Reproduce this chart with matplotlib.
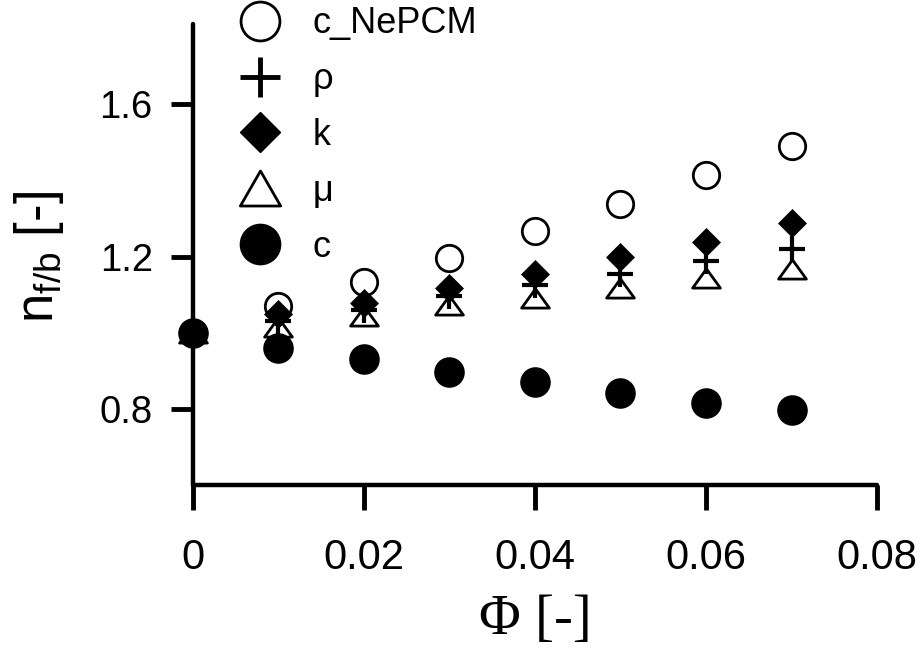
import matplotlib.pyplot as plt
from matplotlib.lines import Line2D
from matplotlib.path import Path

plt.rcParams['font.family'] = ['Liberation Sans', 'DejaVu Sans']
plt.rcParams['mathtext.default'] = 'regular'

# volume fraction
phi = [0, 0.01, 0.02, 0.03, 0.04, 0.05, 0.06, 0.07]

# normalised properties n_f/b
c_nepcm = [1.0, 1.069, 1.133, 1.197, 1.268, 1.339, 1.414, 1.490]
rho = [1.0, 1.030, 1.060, 1.096, 1.124, 1.153, 1.189, 1.220]
k = [1.0, 1.050, 1.078, 1.118, 1.153, 1.199, 1.237, 1.288]
mu = [1.0, 1.016, 1.043, 1.074, 1.091, 1.118, 1.144, 1.167]
c = [1.0, 0.959, 0.931, 0.896, 0.870, 0.841, 0.816, 0.797]

labels = ['c_NePCM', 'ρ', 'k', 'μ', 'c']
xticks = [0, 0.02, 0.04, 0.06, 0.08]
xticklabels = ['0', '0.02', '0.04', '0.06', '0.08']
yticks = [0.8, 1.2, 1.6]
yticklabels = ['0.8', '1.2', '1.6']

# flattened triangle marker (wider than tall)
tri_flat = Path([(0, 0.69), (-1, -0.69), (1, -0.69), (0, 0.69)],
                [Path.MOVETO, Path.LINETO, Path.LINETO, Path.CLOSEPOLY])
tri_leg = Path([(0, 0.87), (-1, -0.87), (1, -0.87), (0, 0.87)],
               [Path.MOVETO, Path.LINETO, Path.LINETO, Path.CLOSEPOLY])

fig = plt.figure(figsize=(9.22, 6.5), dpi=100)
ax = fig.add_axes([0.2093, 0.2538, 0.7419, 0.703])

ax.plot(phi, c_nepcm, 'o', ms=19, mfc='none', mec='black', mew=2, ls='none', clip_on=False)
ax.plot(phi, rho, '+', ms=19, mec='black', mew=3, ls='none', clip_on=False)
ax.plot(phi, k, 'D', ms=14, mfc='black', mec='black', mew=0.5, ls='none', clip_on=False)
ax.plot(phi, mu, marker=tri_flat, ms=20, mfc='none', mec='black', mew=2, ls='none', clip_on=False)
ax.plot(phi, c, 'o', ms=21, mfc='black', mec='black', ls='none', clip_on=False)

ax.set_xlim(0, 0.08)
ax.set_ylim(0.6, 1.8)
ax.set_xticks(xticks)
ax.set_xticklabels(xticklabels)
ax.set_yticks(yticks)
ax.set_yticklabels(yticklabels)

for s in ['top', 'right']:
    ax.spines[s].set_visible(False)
ax.spines['left'].set_bounds(0.6, 1.81)
for s in ['left', 'bottom']:
    ax.spines[s].set_linewidth(3.2)
    ax.spines[s].set_capstyle('round')
ax.tick_params(axis='x', direction='out', length=18, width=3.5, labelsize=30, pad=20)
ax.tick_params(axis='y', direction='out', length=16, width=3.5, labelsize=27.5, pad=13)

ax.set_xlabel('Φ [-]', family='Liberation Serif', fontsize=41)
ax.xaxis.set_label_coords(0.5, -0.2385)
ax.set_ylabel('n$_{f/b}$ [-]', fontsize=38)
ax.yaxis.set_label_coords(-0.186, 0.5)

handles = [
    Line2D([], [], ls='none', marker='o', ms=28, mfc='none', mec='black', mew=2),
    Line2D([], [], ls='none', marker='+', ms=29, mec='black', mew=3.5),
    Line2D([], [], ls='none', marker='D', ms=20, mfc='black', mec='black'),
    Line2D([], [], ls='none', marker=tri_leg, ms=29, mfc='none', mec='black', mew=2),
    Line2D([], [], ls='none', marker='o', ms=29, mfc='black', mec='black'),
]
fig.legend(handles, labels, loc='upper left', bbox_to_anchor=(0.2586, 0.99),
           frameon=False, fontsize=26, labelspacing=0.575, handletextpad=0.85,
           handlelength=1.2, borderpad=0, borderaxespad=0)

fig.savefig('out.png', dpi=100)
